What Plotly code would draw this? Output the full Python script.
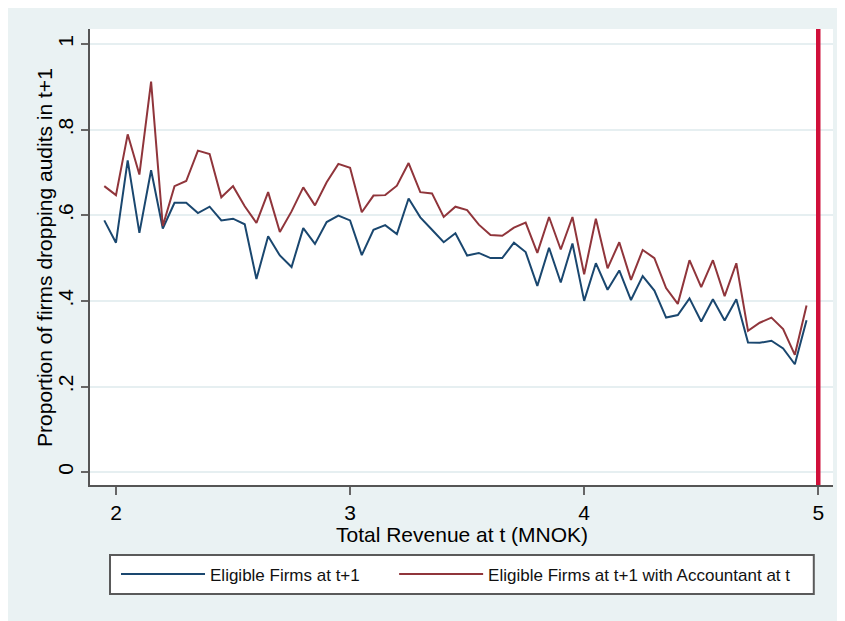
import plotly.graph_objects as go

revenue = [1.95, 2.00, 2.05, 2.10, 2.15, 2.20, 2.25, 2.30, 2.35, 2.40,
           2.45, 2.50, 2.55, 2.60, 2.65, 2.70, 2.75, 2.80, 2.85, 2.90,
           2.95, 3.00, 3.05, 3.10, 3.15, 3.20, 3.25, 3.30, 3.35, 3.40,
           3.45, 3.50, 3.55, 3.60, 3.65, 3.70, 3.75, 3.80, 3.85, 3.90,
           3.95, 4.00, 4.05, 4.10, 4.15, 4.20, 4.25, 4.30, 4.35, 4.40,
           4.45, 4.50, 4.55, 4.60, 4.65, 4.70, 4.75, 4.80, 4.85, 4.90, 4.95]

eligible = [0.588, 0.536, 0.728, 0.559, 0.705, 0.569, 0.629, 0.629, 0.605, 0.620,
            0.588, 0.592, 0.579, 0.451, 0.551, 0.506, 0.479, 0.570, 0.533, 0.584,
            0.599, 0.588, 0.507, 0.566, 0.577, 0.556, 0.639, 0.595, 0.566, 0.537,
            0.558, 0.506, 0.512, 0.500, 0.500, 0.536, 0.514, 0.435, 0.524, 0.443,
            0.534, 0.400, 0.488, 0.426, 0.471, 0.402, 0.458, 0.424, 0.361, 0.367,
            0.406, 0.352, 0.404, 0.354, 0.404, 0.303, 0.302, 0.307, 0.289, 0.252, 0.355]

eligible_acc = [0.668, 0.647, 0.789, 0.695, 0.912, 0.575, 0.668, 0.680, 0.751, 0.743,
                0.642, 0.668, 0.621, 0.582, 0.654, 0.561, 0.609, 0.665, 0.623, 0.677,
                0.720, 0.711, 0.607, 0.646, 0.647, 0.669, 0.722, 0.654, 0.651, 0.596,
                0.620, 0.612, 0.578, 0.554, 0.552, 0.571, 0.583, 0.512, 0.596, 0.520,
                0.596, 0.462, 0.592, 0.476, 0.537, 0.449, 0.519, 0.500, 0.430, 0.393,
                0.495, 0.432, 0.495, 0.411, 0.488, 0.330, 0.349, 0.361, 0.334, 0.274, 0.389]

threshold = 5
x_ticks = [2, 3, 4, 5]
y_ticks = [0, 0.2, 0.4, 0.6, 0.8, 1]
y_tick_labels = ["0", ".2", ".4", ".6", ".8", "1"]

FONT = "Liberation Sans, Arial, sans-serif"
W, H = 845, 621
ML, MR, MT, MB = 82, 20.3, 21, 144
PW, PH = W - ML - MR, H - MT - MB

def px_x(p):
    return (p - ML) / PW

def px_y(p):
    return (H - MB - p) / PH

fig = go.Figure()
fig.add_trace(go.Scatter(x=revenue, y=eligible, mode="lines",
                         name="Eligible Firms at t+1", legend="legend",
                         line=dict(color="#1A476F", width=2)))
fig.add_trace(go.Scatter(x=revenue, y=eligible_acc, mode="lines",
                         name="Eligible Firms at t+1 with Accountant at t",
                         legend="legend2",
                         line=dict(color="#90353B", width=2)))

shapes = [
    dict(type="rect", xref="paper", yref="paper", layer="below",
         x0=px_x(102), x1=px_x(805.5), y0=px_y(586), y1=px_y(547),
         fillcolor="white", line=dict(color="#5a5a5a", width=2)),
    dict(type="line", xref="x", yref="paper", x0=threshold, x1=threshold,
         y0=0, y1=1, line=dict(color="#D0103A", width=4.5)),
]

leg_common = dict(orientation="h", xanchor="left", y=px_y(566.5), yanchor="middle",
                  bgcolor="rgba(0,0,0,0)", borderwidth=0,
                  font=dict(size=17, family=FONT, color="#111"),
                  itemwidth=84)

fig.update_layout(
    width=W, height=H,
    margin=dict(l=ML, r=MR, t=MT, b=MB, autoexpand=False),
    paper_bgcolor="#EAF2F3", plot_bgcolor="white",
    font=dict(family=FONT, color="black"),
    shapes=shapes,
    showlegend=True,
    legend=dict(x=px_x(108), **leg_common),
    legend2=dict(x=px_x(386), **leg_common),
    annotations=[
        dict(text="Total Revenue at t (MNOK)", xref="paper", yref="paper",
             x=0.5, y=px_y(526), xanchor="center", yanchor="middle",
             showarrow=False, font=dict(size=21, family=FONT, color="black")),
        dict(text="Proportion of firms dropping audits in t+1", xref="paper",
             yref="paper", x=px_x(36), y=0.5, xanchor="center", yanchor="middle",
             textangle=-90, showarrow=False,
             font=dict(size=21, family=FONT, color="black")),
    ],
    xaxis=dict(range=[1.889, 5.063], tickvals=x_ticks,
               ticks="outside", ticklen=8, tickcolor="#666", tickwidth=1.5,
               showline=True, linecolor="#555", linewidth=1.8,
               showgrid=False, zeroline=False, automargin=False,
               tickfont=dict(size=21)),
    yaxis=dict(range=[-0.030, 1.035], tickvals=y_ticks, ticktext=y_tick_labels,
               tickangle=-90,
               ticks="outside", ticklen=7, tickcolor="#666", tickwidth=1.5,
               showline=True, linecolor="#555", linewidth=1.8,
               showgrid=True, gridcolor="#E6EFF1", gridwidth=1.5,
               zeroline=False, automargin=False,
               tickfont=dict(size=21)),
)

fig.write_html("out.html")
